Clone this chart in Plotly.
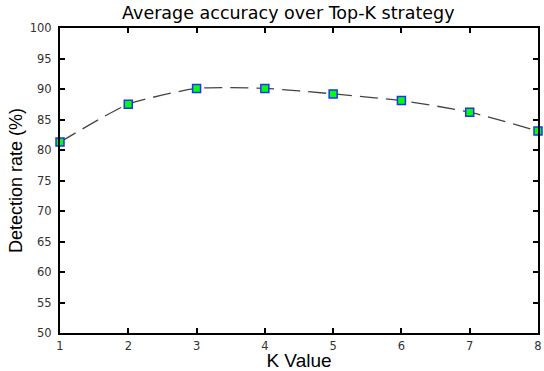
import plotly.graph_objects as go

k_values = [1, 2, 3, 4, 5, 6, 7, 8]
detection_rate = [81.3, 87.5, 90.1, 90.1, 89.2, 88.1, 86.2, 83.1]
y_ticks = [50, 55, 60, 65, 70, 75, 80, 85, 90, 95, 100]

fig = go.Figure()
fig.add_trace(go.Scatter(
    x=k_values, y=detection_rate, mode="lines+markers",
    line=dict(color="#444444", width=1.3, dash="18px,8px", shape="spline", smoothing=0.55),
    marker=dict(symbol="square", size=8, color="#00ff00",
                line=dict(color="#2030ff", width=1.5)),
    cliponaxis=False,
))

tickfont = dict(family="DejaVu Sans", size=11.5, color="#333333")
axis_common = dict(
    showline=True, linecolor="black", linewidth=2, mirror="ticks",
    ticks="inside", ticklen=5, tickwidth=1.5, tickcolor="black",
    showgrid=False, zeroline=False, tickfont=tickfont,
)

fig.update_layout(
    width=544, height=371,
    margin=dict(l=60, r=2, t=28, b=38),
    paper_bgcolor="white", plot_bgcolor="white",
    showlegend=False,
    title=dict(text="Average accuracy over Top-K strategy", xref="container", x=0.53,
               xanchor="center", yref="container", y=0.965, yanchor="middle",
               font=dict(family="DejaVu Sans", size=17.5, color="black")),
    xaxis=dict(range=[1, 8], tickvals=k_values, ticklabelstandoff=1,
               title=dict(text="K Value", standoff=0,
                          font=dict(family="Liberation Sans, Arial", size=19, color="black")),
               **axis_common),
    yaxis=dict(range=[50, 100], tickvals=y_ticks, ticklabelstandoff=4,
               title=dict(text="Detection rate (%)", standoff=2,
                          font=dict(family="Liberation Sans, Arial", size=18, color="black")),
               **axis_common),
)

fig.write_html("out.html", config={"displayModeBar": False},
               post_script="document.body.style.margin='0';")
